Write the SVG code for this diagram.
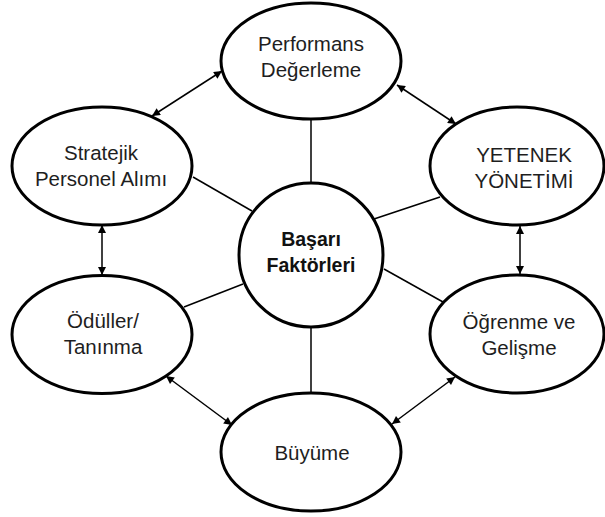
<svg xmlns="http://www.w3.org/2000/svg" width="605" height="517" viewBox="0 0 605 517">
  <defs>
    <style>
      .node { fill: #ffffff; stroke: #000000; stroke-width: 3; }
      .label { font-family: "Liberation Sans", Arial, sans-serif; font-size: 20.5px; fill: #1e1e1e; text-anchor: middle; }
      .hub { font-family: "Liberation Sans", Arial, sans-serif; font-size: 19.5px; font-weight: bold; fill: #111111; text-anchor: middle; }
      .link { stroke: #000000; stroke-width: 1.5; fill: none; }
      .both { marker-start: url(#tip); marker-end: url(#tip); }
    </style>
    <marker id="tip" viewBox="0 0 10 10" refX="10" refY="5" markerUnits="userSpaceOnUse" markerWidth="9" markerHeight="8" orient="auto-start-reverse">
      <path d="M0,0 L10,5 L0,10 z" fill="#000000"/>
    </marker>
  </defs>

  <rect width="605" height="517" fill="#ffffff"/>

  <g id="hub">
    <circle class="node" cx="311" cy="255" r="72"/>
    <text class="hub" x="311" y="246">Başarı</text>
    <text class="hub" x="311" y="272">Faktörleri</text>
  </g>

  <g id="performans">
    <ellipse class="node" cx="311" cy="61" rx="90" ry="58"/>
    <text class="label" x="311" y="51">Performans</text>
    <text class="label" x="311" y="77">Değerleme</text>
  </g>

  <g id="yetenek">
    <ellipse class="node" cx="517" cy="166" rx="87" ry="59"/>
    <text class="label" x="524" y="162">YETENEK</text>
    <text class="label" x="524" y="188">YÖNETİMİ</text>
  </g>

  <g id="ogrenme">
    <ellipse class="node" cx="517" cy="334" rx="87" ry="59"/>
    <text class="label" x="519" y="329">Öğrenme ve</text>
    <text class="label" x="519" y="355">Gelişme</text>
  </g>

  <g id="buyume">
    <ellipse class="node" cx="311" cy="452" rx="90" ry="59"/>
    <text class="label" x="312" y="460">Büyüme</text>
  </g>

  <g id="oduller">
    <ellipse class="node" cx="102" cy="334.5" rx="90" ry="59"/>
    <text class="label" x="103" y="328">Ödüller/</text>
    <text class="label" x="103" y="354">Tanınma</text>
  </g>

  <g id="stratejik">
    <ellipse class="node" cx="102" cy="166" rx="90" ry="59"/>
    <text class="label" x="101" y="160">Stratejik</text>
    <text class="label" x="101" y="186">Personel Alımı</text>
  </g>

  <g id="connectors">
    <!-- spokes from the hub -->
    <line class="link" x1="311" y1="119" x2="311" y2="183"/>
    <line class="link" x1="193" y1="177" x2="252" y2="211"/>
    <line class="link" x1="374" y1="219" x2="440" y2="197"/>
    <line class="link" x1="384" y1="269" x2="443" y2="302"/>
    <line class="link" x1="184" y1="307" x2="243" y2="284"/>
    <line class="link" x1="311" y1="327" x2="311" y2="393"/>
    <!-- two-way arrows around the ring -->
    <line class="link both" x1="152" y1="116" x2="222" y2="71"/>
    <line class="link both" x1="397" y1="85" x2="456" y2="124"/>
    <line class="link both" x1="520" y1="226" x2="520" y2="274"/>
    <line class="link both" x1="455" y1="377" x2="392" y2="424"/>
    <line class="link both" x1="232" y1="425" x2="166" y2="376"/>
    <line class="link both" x1="102" y1="275" x2="102" y2="225"/>
  </g>
</svg>
